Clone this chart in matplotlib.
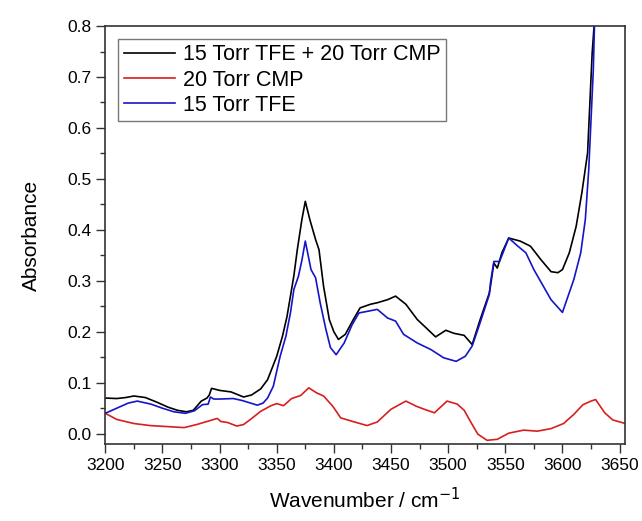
import matplotlib
import numpy as np

matplotlib.use("Agg")
import matplotlib.pyplot as plt
from matplotlib.ticker import FormatStrFormatter, MultipleLocator

plt.rcParams["font.family"] = ["Liberation Sans", "DejaVu Sans"]

# 15 Torr TFE + 20 Torr CMP
mix_x = [3200, 3210, 3218, 3225, 3235, 3245, 3255, 3263, 3271, 3277, 3284, 3289, 3291, 3293,
         3300, 3310, 3321, 3328, 3336, 3342, 3350, 3355, 3359, 3362, 3365, 3368, 3372, 3375,
         3379, 3384, 3387, 3391, 3396, 3400, 3404, 3410, 3417, 3423, 3432, 3438, 3447, 3454,
         3463, 3473, 3482, 3489, 3498, 3505, 3514, 3521, 3528, 3536, 3537, 3540, 3543, 3547,
         3553, 3563, 3572, 3581, 3590, 3596, 3600, 3606, 3612, 3617, 3622, 3624, 3626, 3628, 3631]
mix_y = [0.070, 0.069, 0.071, 0.074, 0.071, 0.062, 0.052, 0.046, 0.043, 0.046, 0.064, 0.070,
         0.076, 0.089, 0.085, 0.082, 0.072, 0.076, 0.088, 0.106, 0.152, 0.191, 0.23, 0.27,
         0.31, 0.361, 0.42, 0.456, 0.42, 0.381, 0.361, 0.289, 0.224, 0.200, 0.185, 0.195,
         0.224, 0.247, 0.254, 0.257, 0.263, 0.270, 0.254, 0.224, 0.205, 0.190, 0.203, 0.197,
         0.193, 0.175, 0.224, 0.276, 0.289, 0.335, 0.325, 0.355, 0.384, 0.378, 0.368, 0.342,
         0.318, 0.316, 0.322, 0.355, 0.407, 0.473, 0.551, 0.649, 0.747, 0.81, 0.95]

# 20 Torr CMP
cmp_x = [3200, 3210, 3225, 3239, 3254, 3269, 3280, 3289, 3295, 3298, 3301, 3307, 3315, 3321,
         3327, 3336, 3345, 3350, 3356, 3363, 3371, 3378, 3385, 3391, 3399, 3406, 3418, 3429,
         3438, 3450, 3463, 3472, 3479, 3488, 3499, 3508, 3514, 3520, 3526, 3534, 3543, 3553,
         3566, 3578, 3590, 3601, 3610, 3618, 3625, 3629, 3637, 3644, 3655]
cmp_y = [0.040, 0.028, 0.020, 0.016, 0.014, 0.012, 0.018, 0.024, 0.028, 0.030, 0.024, 0.022,
         0.015, 0.018, 0.028, 0.044, 0.055, 0.059, 0.055, 0.069, 0.075, 0.090, 0.080, 0.074,
         0.054, 0.031, 0.023, 0.016, 0.023, 0.048, 0.064, 0.054, 0.048, 0.041, 0.064, 0.058,
         0.046, 0.022, -0.001, -0.013, -0.011, 0.001, 0.007, 0.005, 0.010, 0.020, 0.038,
         0.057, 0.064, 0.067, 0.041, 0.027, 0.020]

# 15 Torr TFE
tfe_x = [3200, 3210, 3220, 3228, 3240, 3250, 3260, 3270, 3278, 3285, 3290, 3292, 3295, 3300,
         3312, 3320, 3333, 3338, 3342, 3347, 3353, 3358, 3362, 3365, 3369, 3372, 3375, 3380,
         3384, 3388, 3393, 3397, 3402, 3409, 3416, 3422, 3429, 3438, 3447, 3454, 3461, 3473,
         3485, 3496, 3507, 3515, 3521, 3528, 3536, 3537, 3540, 3545, 3549, 3553, 3561, 3568,
         3575, 3590, 3600, 3610, 3616, 3620, 3623, 3625, 3627, 3628, 3631]
tfe_y = [0.040, 0.050, 0.060, 0.064, 0.058, 0.050, 0.043, 0.040, 0.045, 0.057, 0.058, 0.072,
         0.068, 0.068, 0.069, 0.065, 0.056, 0.060, 0.070, 0.093, 0.152, 0.191, 0.237, 0.283,
         0.309, 0.34, 0.378, 0.322, 0.306, 0.257, 0.205, 0.169, 0.155, 0.178, 0.214, 0.237,
         0.240, 0.244, 0.227, 0.221, 0.195, 0.178, 0.165, 0.149, 0.142, 0.152, 0.172, 0.218,
         0.273, 0.296, 0.338, 0.338, 0.361, 0.384, 0.368, 0.355, 0.322, 0.263, 0.238, 0.303,
         0.355, 0.420, 0.518, 0.616, 0.714, 0.80, 0.95]

fig, ax = plt.subplots(figsize=(6.42, 5.21), dpi=100)
fig.subplots_adjust(left=0.164, right=0.974, bottom=0.148, top=0.950)

ax.plot(mix_x, mix_y, color="black", linewidth=1.2, label="15 Torr TFE + 20 Torr CMP")
ax.plot(cmp_x, cmp_y, color="#d61f1f", linewidth=1.2, label="20 Torr CMP")
ax.plot(tfe_x, tfe_y, color="#1515c8", linewidth=1.2, label="15 Torr TFE")

ax.set_xlim(3200, 3655)
ax.set_ylim(-0.02, 0.8)
ax.xaxis.set_major_locator(MultipleLocator(50))
ax.xaxis.set_minor_locator(MultipleLocator(25))
ax.yaxis.set_major_locator(MultipleLocator(0.1))
ax.yaxis.set_minor_locator(MultipleLocator(0.05))
ax.yaxis.set_major_formatter(FormatStrFormatter("%.1f"))
ax.tick_params(which="major", direction="out", length=6.5, width=1, labelsize=12.5, color="#333333")
ax.tick_params(which="minor", direction="out", length=3.5, width=1, color="#333333")
ax.tick_params(top=False, right=False)
for s in ax.spines.values():
    s.set_color("#333333")
    s.set_linewidth(1.2)

ax.set_xlabel("Wavenumber / cm$^{-1}$", fontsize=15, labelpad=10)
ax.set_ylabel("Absorbance", fontsize=15, labelpad=19)

leg = ax.legend(loc="upper left", fontsize=15.5, frameon=True, fancybox=False,
                handlelength=2.4, handletextpad=0.35, borderpad=0.25, labelspacing=0.2,
                borderaxespad=0.6)
leg.get_frame().set_edgecolor("#555555")
leg.get_frame().set_linewidth(1.0)

plt.savefig("out.png", dpi=100)
